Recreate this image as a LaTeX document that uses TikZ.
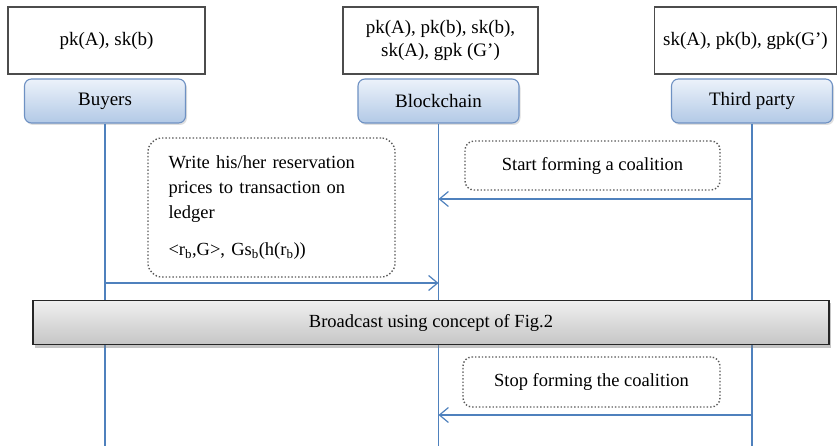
\documentclass[tikz,border=0pt]{standalone}
\usepackage{fontspec}
\setmainfont{Liberation Serif}
\usetikzlibrary{arrows.meta,shadows}
\definecolor{lifeblue}{RGB}{79,129,189}
\definecolor{boxtop}{RGB}{236,242,250}
\definecolor{boxbot}{RGB}{178,201,230}
\definecolor{boxedge}{RGB}{110,145,195}
\definecolor{dotgray}{RGB}{90,90,90}
\begin{document}
\begin{tikzpicture}[x=1pt,y=1pt,
  keybox/.style={draw=black!70,line width=1.1pt,fill=white,minimum height=67pt,inner sep=2pt,align=center,font=\fontsize{19}{23}\selectfont},
  actor/.style={draw=boxedge,line width=1.1pt,rounded corners=7pt,top color=boxtop,bottom color=boxbot,minimum height=44pt,minimum width=161pt,font=\fontsize{19}{23}\selectfont,drop shadow={opacity=0.25,shadow xshift=1.5pt,shadow yshift=-2pt}},
  note/.style={draw=dotgray,dotted,line width=1.4pt,rounded corners=14pt,fill=white,font=\fontsize{18.5}{25}\selectfont},
  life/.style={draw=lifeblue,line width=1.4pt},
  msg/.style={draw=lifeblue,line width=1.4pt,-{Straight Barb[length=9pt,width=15pt,line width=1.2pt]}},
  bar/.style={draw=black!85,line width=1.6pt,top color=gray!12,bottom color=gray!45,minimum width=796pt,minimum height=44pt,font=\fontsize{18.5}{22}\selectfont,drop shadow={opacity=0.45,shadow xshift=2pt,shadow yshift=-3pt}}
]
\useasboundingbox (0,0) rectangle (838,-446);
\fill[white] (0,0) rectangle (838,-446);

% key boxes
\node[keybox,minimum width=197pt] (k1) at (106.5,-40.5) {pk(A), sk(b)};
\node[keybox,minimum width=195pt] (k2) at (440.5,-40.5) {pk(A), pk(b), sk(b),\\ sk(A), gpk (G’)};
\node[keybox,minimum width=182pt] (k3) at (745.5,-40.5) {sk(A), pk(b), gpk(G’)};

% actors
\node[actor] (buy) at (105,-101) {Buyers};
\node[actor] (bc) at (438.5,-101) {Blockchain};
\node[actor] (tp) at (752,-101) {Third party};

% lifelines
\coordinate (buyend) at (105,-446);
\coordinate (bcend) at (438.5,-446);
\coordinate (tpend) at (752,-446);
\draw[life] (buy.south) -- (buyend);
\draw[life] (bc.south) -- (bcend);
\draw[life] (tp.south) -- (tpend);

% notes
\node[note,minimum width=247pt,minimum height=139pt,align=left,text width=206pt] (n1) at (271.5,-207.5)
  {Write his/her reservation\\prices to transaction on\\ledger\\[12pt]\textless r\textsubscript{b},G\textgreater, Gs\textsubscript{b}(h(r\textsubscript{b}))};
\node[note,rounded corners=9pt,minimum width=255pt,minimum height=49pt] (n2) at (592.5,-165.5) {Start forming a coalition};
\node[note,rounded corners=9pt,minimum width=257pt,minimum height=50pt] (n3) at (591.5,-382) {Stop forming the coalition};

% messages
\coordinate (m1s) at (105,-283);
\coordinate (m1e) at (438.5,-283);
\coordinate (m2s) at (752,-199);
\coordinate (m2e) at (438.5,-199);
\coordinate (m3s) at (752,-415);
\coordinate (m3e) at (438.5,-415);
\draw[msg] (m1s) -- (m1e);
\draw[msg] (m2s) -- (m2e);
\draw[msg] (m3s) -- (m3e);

% broadcast bar
\node[bar] (bb) at (431,-322.5) {Broadcast using concept of Fig.2};
\end{tikzpicture}
\end{document}
